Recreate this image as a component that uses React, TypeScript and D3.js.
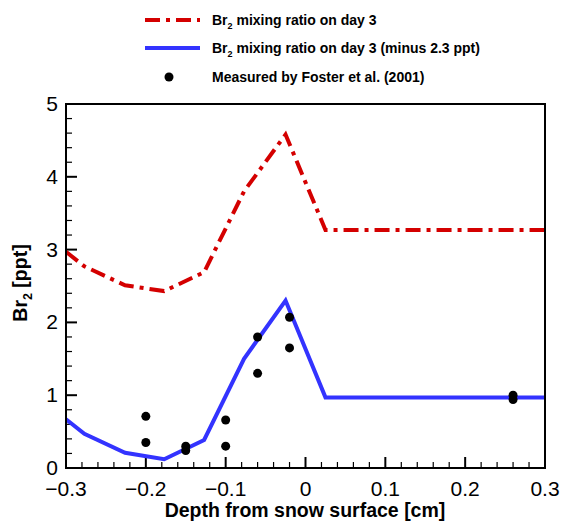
import React from 'react';
import * as d3 from 'd3';

// model output, day 3 (depth in cm, Br2 in ppt)
const modelDepth = [-0.3, -0.277, -0.226, -0.177, -0.127, -0.077, -0.025, 0.025, 0.3];
const day3 = [2.97, 2.77, 2.51, 2.43, 2.69, 3.8, 4.58, 3.27, 3.27];
const day3Minus = [0.67, 0.47, 0.21, 0.12, 0.385, 1.5, 2.3, 0.97, 0.97];

// Foster et al. (2001)
const measDepth = [-0.2, -0.2, -0.15, -0.15, -0.1, -0.1, -0.06, -0.06, -0.02, -0.02, 0.26, 0.26];
const measBr2 = [0.71, 0.35, 0.3, 0.24, 0.66, 0.3, 1.8, 1.3, 2.07, 1.65, 1.0, 0.94];

const xTicks = [-0.3, -0.2, -0.1, 0, 0.1, 0.2, 0.3];
const yTicks = [0, 1, 2, 3, 4, 5];

const W = 563;
const H = 521;
const left = 66, right = 545, top = 104, bottom = 468;
const font = 'Arial, "Liberation Sans", Helvetica, sans-serif';

export default function App() {
  const x = d3.scaleLinear().domain([-0.3, 0.3]).range([left, right]);
  const y = d3.scaleLinear().domain([0, 5]).range([bottom, top]);

  const line = d3.line<number>()
    .x((d, i) => x(modelDepth[i]))
    .y(d => y(d));

  const xMinor = d3.range(-0.3, 0.3001, 0.02).map(v => +v.toFixed(2));
  const yMinor = d3.range(0, 5.001, 0.2).map(v => +v.toFixed(1));

  return (
    <svg width={W} height={H} style={{ position: 'absolute', left: 0, top: 0 }} fontFamily={font}>
      <rect width={W} height={H} fill="white" />
      <defs>
        <clipPath id="plot-clip">
          <rect x={left} y={top} width={right - left} height={bottom - top} />
        </clipPath>
      </defs>

      {/* legend */}
      <g>
        <line x1={145} x2={200} y1={20} y2={20} stroke="#d40000" strokeWidth={4} strokeDasharray="15,6,4,6" />
        <text x={212} y={25} fontSize={14} fontWeight="bold">
          Br<tspan fontSize={9} dy={4}>2</tspan><tspan dy={-4}> mixing ratio on day 3</tspan>
        </text>
        <line x1={145} x2={200} y1={48} y2={48} stroke="#3333ff" strokeWidth={4} />
        <text x={212} y={53} fontSize={14} fontWeight="bold">
          Br<tspan fontSize={9} dy={4}>2</tspan><tspan dy={-4}> mixing ratio on day 3 (minus 2.3 ppt)</tspan>
        </text>
        <circle cx={169} cy={77} r={4.5} fill="black" />
        <text x={212} y={82} fontSize={14} fontWeight="bold">Measured by Foster et al. (2001)</text>
      </g>

      {/* minor + major ticks */}
      {xMinor.map(v => {
        const major = xTicks.some(t => Math.abs(t - v) < 1e-6);
        return <line key={'xm' + v} x1={x(v)} x2={x(v)} y1={bottom} y2={bottom - (major ? 11 : 6)} stroke="black" strokeWidth={major ? 2 : 1.2} />;
      })}
      {yMinor.map(v => {
        const major = yTicks.some(t => Math.abs(t - v) < 1e-6);
        return <line key={'ym' + v} x1={left} x2={left + (major ? 11 : 6)} y1={y(v)} y2={y(v)} stroke="black" strokeWidth={major ? 2 : 1.2} />;
      })}

      <g clipPath="url(#plot-clip)">
        <path d={line(day3) || ''} fill="none" stroke="#d40000" strokeWidth={4} strokeDasharray="15,6,4,6" />
        <path d={line(day3Minus) || ''} fill="none" stroke="#3333ff" strokeWidth={4} />
      </g>

      {measDepth.map((d, i) => (
        <circle key={'m' + i} cx={x(d)} cy={y(measBr2[i])} r={4.5} fill="black" />
      ))}

      <rect x={left} y={top} width={right - left} height={bottom - top} fill="none" stroke="black" strokeWidth={2} />

      {/* tick labels */}
      {xTicks.map(t => (
        <text key={'xt' + t} x={x(t)} y={496} fontSize={21} textAnchor="middle">{d3.format('')(t)}</text>
      ))}
      {yTicks.map(t => (
        <text key={'yt' + t} x={58} y={y(t) + 7} fontSize={21} textAnchor="end">{t}</text>
      ))}

      {/* axis titles */}
      <text x={305} y={517} fontSize={19.5} fontWeight="bold" textAnchor="middle">Depth from snow surface [cm]</text>
      <text transform="translate(27,283) rotate(-90)" fontSize={19.5} fontWeight="bold" textAnchor="middle">
        Br<tspan fontSize={12.5} dy={5}>2</tspan><tspan dy={-5}> [ppt]</tspan>
      </text>
    </svg>
  );
}
